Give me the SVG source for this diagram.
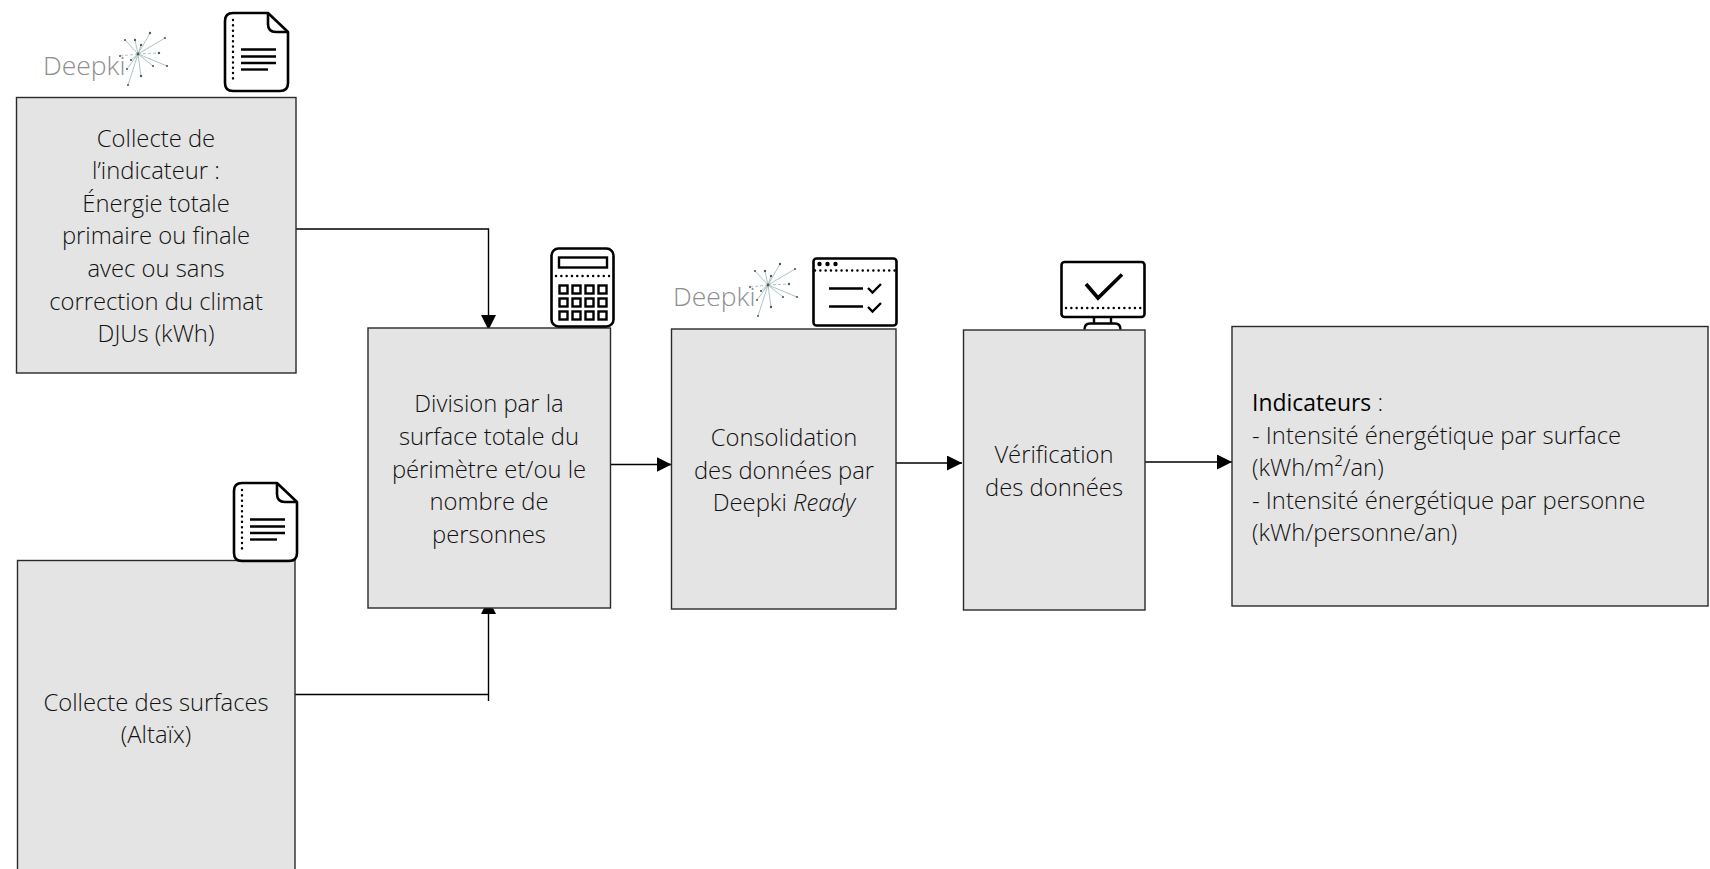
<svg xmlns="http://www.w3.org/2000/svg" width="1710" height="869" viewBox="0 0 1710 869">
<style>
.box{fill:#e4e4e4;stroke:#2a2a2a;stroke-width:1.4}
.t{font-family:"Open Sans","Liberation Sans",sans-serif;font-weight:300;font-size:23.8px;fill:#111;text-anchor:middle}
.l{text-anchor:start}
.b{font-weight:400;fill:#000;font-size:22.9px}
.c{fill:none;stroke:#000;stroke-width:1.4}
.ic{fill:none;stroke:#000;stroke-width:2.6;stroke-linejoin:round}
.il{fill:none;stroke:#000;stroke-width:2.4}
.dot{fill:none;stroke:#000;stroke-width:2.4;stroke-linecap:round;stroke-dasharray:0.1 5.2}
.logo{font-family:"Open Sans","Liberation Sans",sans-serif;font-weight:300;font-size:26.5px;fill:#8e8e8e}
.ray{stroke:#a5bcbc;stroke-width:.9;fill:none}
.star circle{fill:#4a5a5a}
</style>
<defs>
<marker id="ah" markerUnits="userSpaceOnUse" markerWidth="15" markerHeight="15" refX="15" refY="7.5" orient="auto"><path d="M0 0L15 7.500L0 15Z" fill="#000"/></marker>
<g id="star" class="star">
<path class="ray" d="M0 0L12-21M0 0L27-16M0 0L-13-14M0 0L-3-14M0 0L3-9M0 0L15 12M0 0L29 12M0 0L3 22M0 0L-10 31M0 0L-7 6M0 0L-11 15"/>
<path class="ray" stroke-dasharray="3 2" d="M0 0L21-1M0 0L-18 2"/>
<circle cx="12" cy="-21" r="1.2"/><circle cx="27" cy="-16" r="1.1"/><circle cx="-13" cy="-14" r="1.1"/><circle cx="-3" cy="-14" r="1.2"/><circle cx="3" cy="-9" r="1.2"/><circle cx="21" cy="-1" r="1.2"/><circle cx="15" cy="12" r="1.1"/><circle cx="29" cy="12" r="1.1"/><circle cx="3" cy="22" r="1.2"/><circle cx="-10" cy="31" r="1"/><circle cx="-7" cy="6" r="1.1"/><circle cx="-11" cy="15" r="1"/><circle cx="-18" cy="2" r="1"/><circle cx="0" cy="0" r="1.4"/>
</g>
<g id="doc">
<path class="ic" d="M233 13H268L288 32V83Q288 91 280 91H233Q225 91 225 83V21Q225 13 233 13Z"/>
<path class="ic" d="M268 13V24Q268 32 276 32H288"/>
<path class="dot" d="M233 20V83"/>
<path class="il" d="M241 49.500H276M241 56.500H276M241 63H276"/>
<path class="il" d="M241 69.500H268"/>
</g>
</defs>

<g id="connectors">
<path class="c" d="M296 229H488.500V330" marker-end="url(#ah)"/>
<path class="c" d="M295 694.500H488.500"/>
<path class="c" d="M488.500 701V599" marker-end="url(#ah)"/>
<path class="c" d="M610.500 464.500H671.500" marker-end="url(#ah)"/>
<path class="c" d="M896 463H962" marker-end="url(#ah)"/>
<path class="c" d="M1145 462H1232" marker-end="url(#ah)"/>
</g>

<g id="node-collecte-indicateur">
<rect class="box" x="16.500" y="97.500" width="279.500" height="275.500"/>
<text class="t" x="156" y="146.500">Collecte de</text>
<text class="t" x="156" y="179">l’indicateur :</text>
<text class="t" x="156" y="211.500">Énergie totale</text>
<text class="t" x="156" y="244">primaire ou finale</text>
<text class="t" x="156" y="277">avec ou sans</text>
<text class="t" x="156" y="309.500">correction du climat</text>
<text class="t" x="156" y="342">DJUs (kWh)</text>
</g>
<g id="node-logo-1">
<text class="logo" x="43" y="75">Deepki</text>
<use href="#star" x="138" y="54"/>
</g>
<g id="node-doc-1"><use href="#doc"/></g>

<g id="node-collecte-surfaces">
<rect class="box" x="17.500" y="560.500" width="277.500" height="320"/>
<text class="t" x="156" y="710.500">Collecte des surfaces</text>
<text class="t" x="156" y="743">(Altaïx)</text>
</g>
<g id="node-doc-2"><use href="#doc" x="9" y="470"/></g>

<g id="node-division">
<rect class="box" x="368" y="328" width="242.500" height="280"/>
<text class="t" x="489" y="412">Division par la</text>
<text class="t" x="489" y="445">surface totale du</text>
<text class="t" x="489" y="477.500">périmètre et/ou le</text>
<text class="t" x="489" y="510">nombre de</text>
<text class="t" x="489" y="543">personnes</text>
</g>
<g id="node-calculatrice">
<rect class="ic" x="551.500" y="248.500" width="62" height="78" rx="7"/>
<rect class="il" x="559" y="257.500" width="48" height="10"/>
<path class="dot" d="M556 276H611"/>
<g class="il">
<rect x="559.500" y="285.500" width="8" height="8"/><rect x="572.500" y="285.500" width="8" height="8"/><rect x="585.500" y="285.500" width="8" height="8"/><rect x="598.500" y="285.500" width="8" height="8"/>
<rect x="559.500" y="298.500" width="8" height="8"/><rect x="572.500" y="298.500" width="8" height="8"/><rect x="585.500" y="298.500" width="8" height="8"/><rect x="598.500" y="298.500" width="8" height="8"/>
<rect x="559.500" y="311.500" width="8" height="8"/><rect x="572.500" y="311.500" width="8" height="8"/><rect x="585.500" y="311.500" width="8" height="8"/><rect x="598.500" y="311.500" width="8" height="8"/>
</g>
</g>

<g id="node-consolidation">
<rect class="box" x="671.500" y="329" width="224.500" height="280"/>
<text class="t" x="784" y="446">Consolidation</text>
<text class="t" x="784" y="478.500">des données par</text>
<text class="t" x="784" y="511">Deepki <tspan font-style="italic">Ready</tspan></text>
</g>
<g id="node-logo-2">
<text class="logo" x="673" y="306">Deepki</text>
<use href="#star" x="768" y="285"/>
</g>
<g id="node-fenetre">
<rect class="ic" x="813.500" y="258.500" width="83" height="67" rx="3"/>
<circle cx="819.500" cy="264" r="2.200"/><circle cx="827.500" cy="264" r="2.200"/><circle cx="835.500" cy="264" r="2.200"/>
<path class="dot" d="M815 270.500H896"/>
<path class="il" d="M829 288.500H863M829 306.500H863"/>
<path class="il" d="M868 288L872.500 292.500L881 284M868 307L872.500 311.500L881 303"/>
</g>

<g id="node-verification">
<rect class="box" x="963.500" y="330" width="181.500" height="280"/>
<text class="t" x="1054" y="462.500">Vérification</text>
<text class="t" x="1054" y="495.500">des données</text>
</g>
<g id="node-ecran">
<rect class="ic" x="1061.500" y="262" width="83" height="55" rx="3"/>
<path d="M1086 284L1098 298L1122 274.500" fill="none" stroke="#000" stroke-width="3.600"/>
<path class="dot" d="M1066 308H1141"/>
<path class="il" d="M1094 317V324M1111 317V324"/>
<path class="il" d="M1084.500 329.500Q1084.500 323.500 1090 323.500H1115Q1120.500 323.500 1120.500 329.500"/>
</g>

<g id="node-indicateurs">
<rect class="box" x="1232" y="326.500" width="476" height="279.500"/>
<text class="t l" x="1252" y="411"><tspan class="b">Indicateurs</tspan> :</text>
<text class="t l" x="1252" y="444">- Intensité énergétique par surface</text>
<text class="t l" x="1252" y="476">(kWh/m²/an)</text>
<text class="t l" x="1252" y="509">- Intensité énergétique par personne</text>
<text class="t l" x="1252" y="541">(kWh/personne/an)</text>
</g>
</svg>
